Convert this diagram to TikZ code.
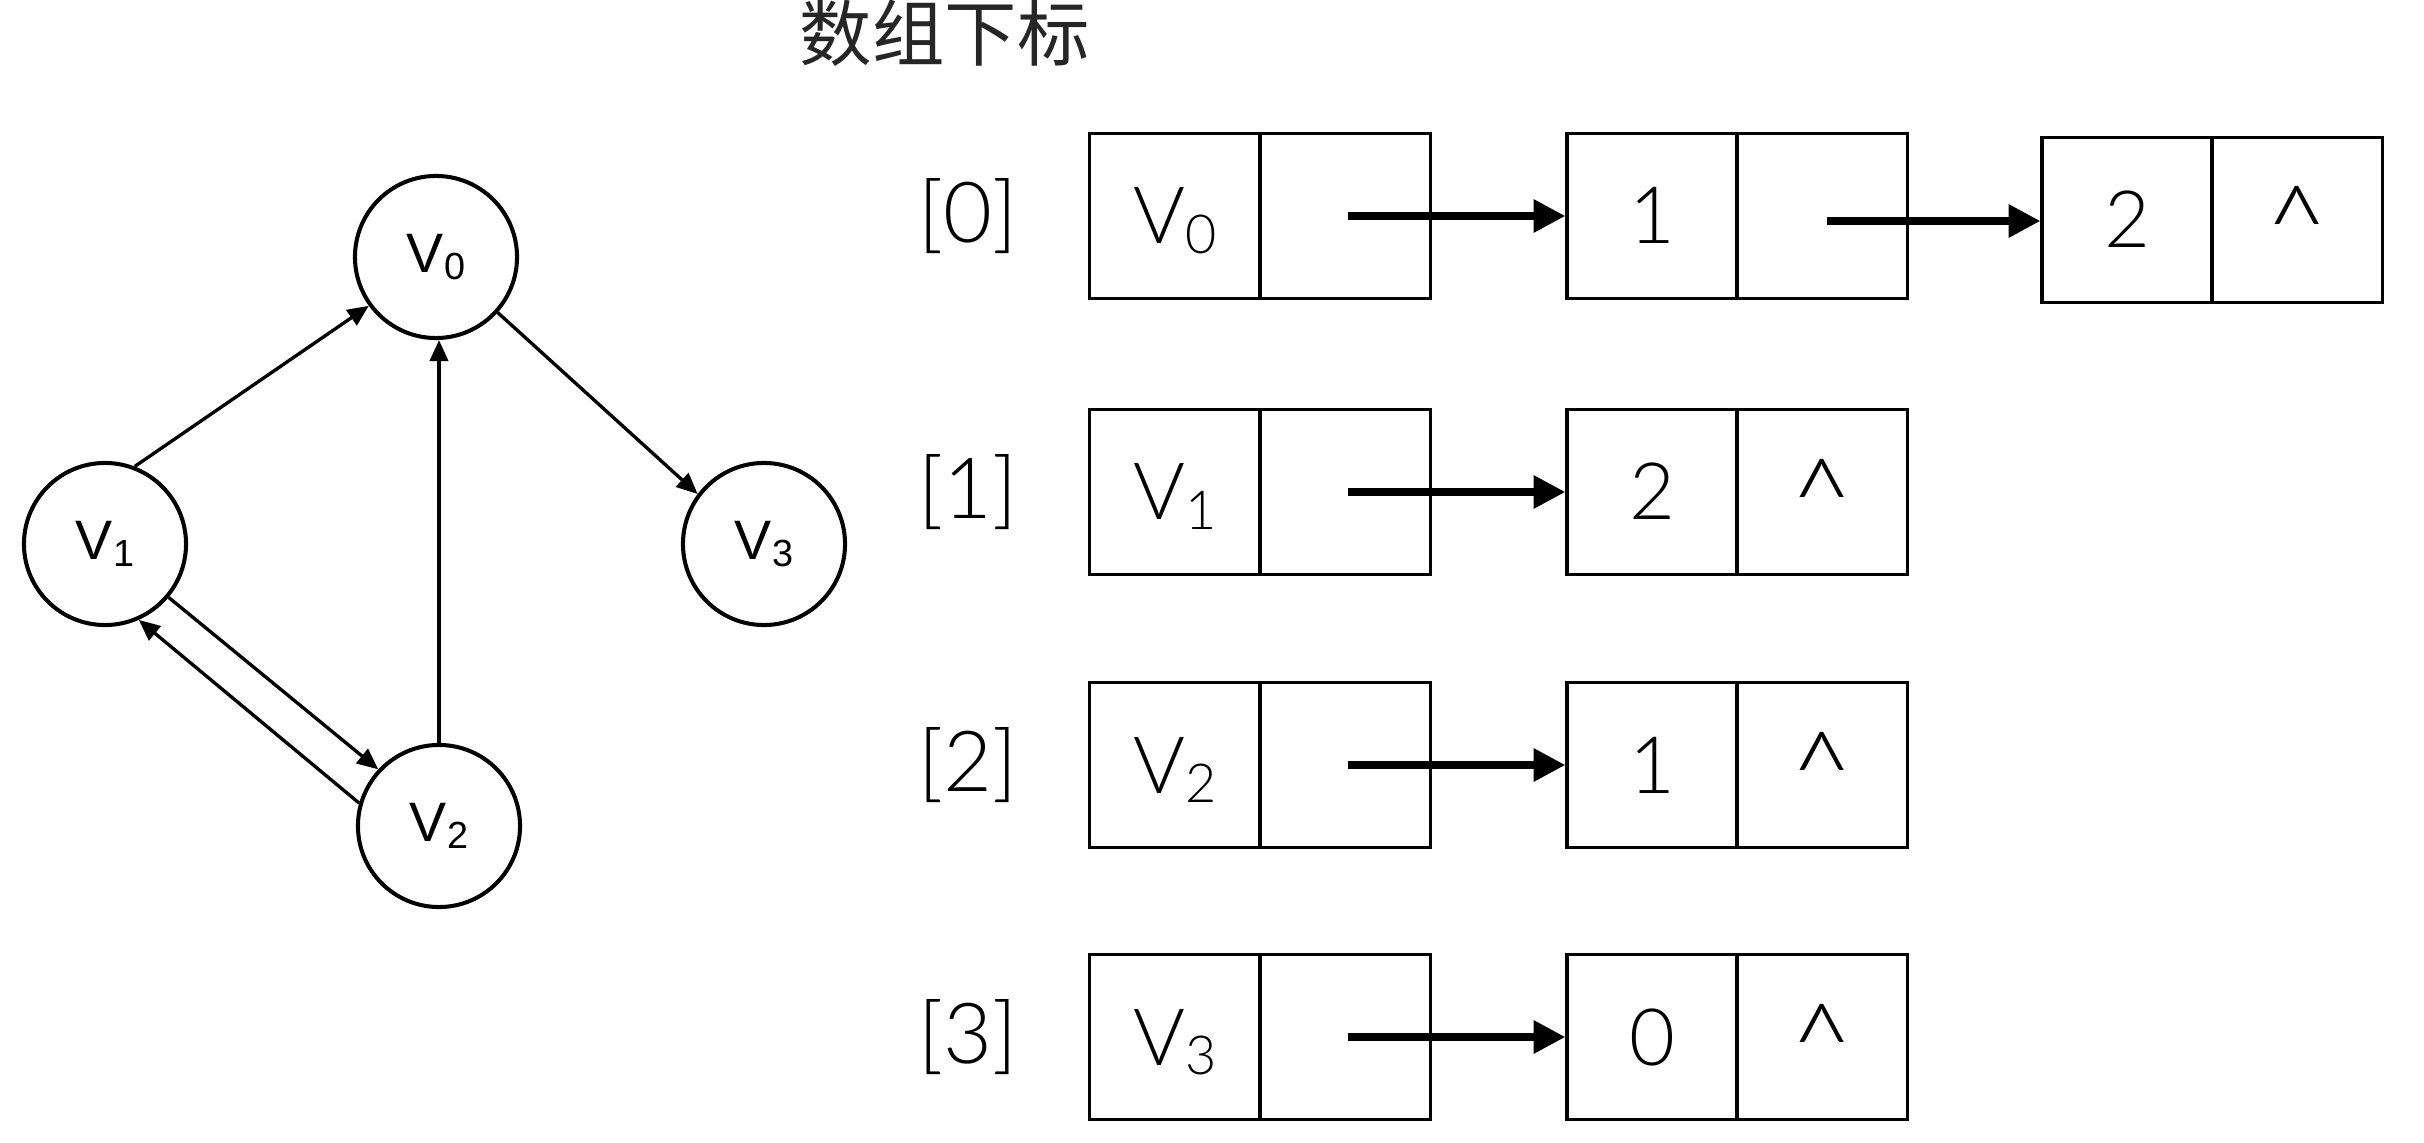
\documentclass[tikz,border=0pt]{standalone}
\usepackage{fontspec}
\usepackage{graphicx}
\setmainfont{Liberation Sans}
\newfontfamily\lightfont{Lato Light}
\newfontfamily\cjk{Noto Sans CJK SC}
\usetikzlibrary{arrows.meta}
\newcommand\Vsub[1]{V\raisebox{-0.12em}{\scalebox{0.68}{#1}}}
\tikzset{
  gnode/.style={circle, draw, line width=1.15pt, minimum size=1.62cm, inner sep=0pt, font=\fontsize{15.8}{18}\selectfont},
  gedge/.style={line width=0.95pt, -{Triangle[length=6pt,width=5.2pt]}},
  listbox/.style={draw, line width=0.9pt, minimum width=3.4cm, minimum height=1.65cm, inner sep=0pt},
  divider/.style={line width=0.9pt},
  bigarrow/.style={line width=2pt, -{Triangle[length=9pt,width=9pt]}},
  celltext/.style={anchor=base, inner sep=0pt, font=\lightfont\fontsize{22.5}{26}\selectfont},
  nilmark/.style={anchor=base, inner sep=0pt, font=\lightfont\fontsize{31}{34}\selectfont},
  idxtext/.style={inner sep=0pt, font=\lightfont\fontsize{24}{28}\selectfont},
}
\begin{document}
\begin{tikzpicture}[x=0.01cm, y=-0.01cm]
\useasboundingbox (0,0) rectangle (2424,1143);
% title
\node[anchor=base west, inner sep=0pt, text=black!85, font=\cjk\fontsize{20.6}{23}\selectfont] (title) at (799,61) {数组下标};
% graph
\node[gnode] (v0) at (436,257) {\Vsub{0}};
\node[gnode] (v1) at (105,544) {\Vsub{1}};
\node[gnode] (v2) at (439,826) {\Vsub{2}};
\node[gnode] (v3) at (764,544) {\Vsub{3}};
\draw[gedge] (v1.69) -- (v0.216);
\draw[gedge] (v0.318) -- (v3.143);
\draw[gedge] (v2.north) -- (v2.north |- v0.south);
\draw[gedge] (v1.-40) -- (v2.137);
\draw[gedge] (v2.164) -- (v1.294);
% adjacency list
\foreach \r/\cy/\lab/\nb in {0/216/0/1, 1/492/1/2, 2/765/2/1, 3/1037/3/0}{
  \node[idxtext] (i\r) at (968,\cy) {[\lab]};
  \node[listbox] (a\r) at (1260,\cy) {};
  \draw[divider] (a\r.north) -- (a\r.south);
  \node[celltext] (av\r) at (1175,\cy+28) {\Vsub{\lab}};
  \node[listbox] (b\r) at (1737,\cy) {};
  \draw[divider] (b\r.north) -- (b\r.south);
  \node[celltext] (bn\r) at (1652,\cy+28) {\nb};
  \coordinate (s\r) at (1348,\cy);
  \draw[bigarrow] (s\r) -- (b\r.west |- s\r);
}
\foreach \r/\cy in {1/492, 2/765, 3/1037}{
  \node[nilmark] (bc\r) at (1822,\cy+44) {\textasciicircum};
}
% third node in row 0
\node[listbox] (c0) at (2212,220) {};
\draw[divider] (c0.north) -- (c0.south);
\node[celltext] (cn0) at (2127,248) {2};
\node[nilmark] (cc0) at (2297,264) {\textasciicircum};
\coordinate (t0) at (1827,221);
\draw[bigarrow] (t0) -- (c0.west |- t0);
\end{tikzpicture}
\end{document}
